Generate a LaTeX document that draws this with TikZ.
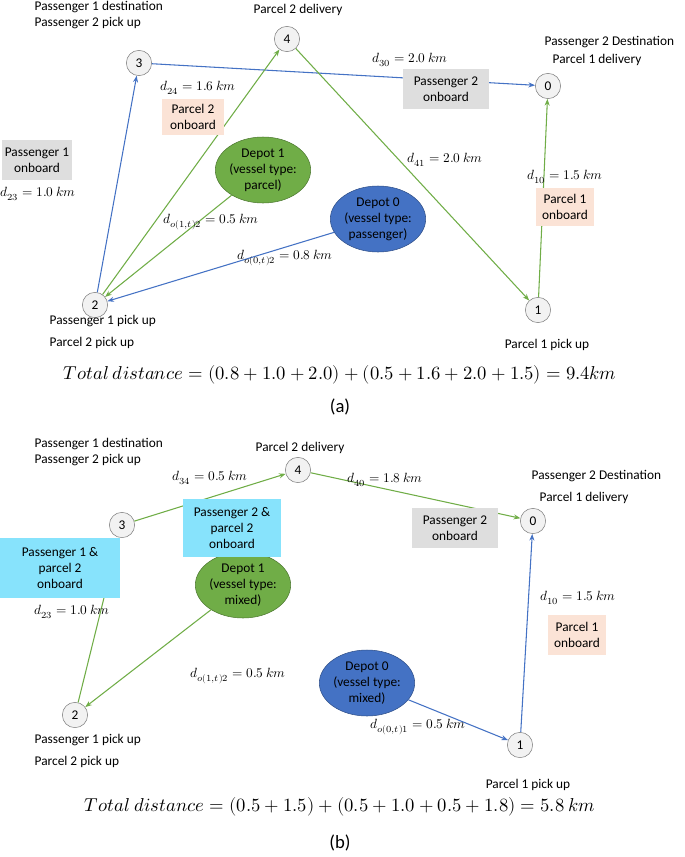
\documentclass[tikz,border=0pt]{standalone}
\usepackage{fontspec}
\setmainfont{Carlito}
\usepackage{unicode-math}
\setmathfont{Latin Modern Math}
\usetikzlibrary{arrows.meta,shapes.geometric}
\definecolor{gr}{HTML}{70AD47}
\definecolor{bl}{HTML}{4472C4}
\definecolor{gy}{HTML}{DEDEDE}
\definecolor{pk}{HTML}{FBE3D6}
\definecolor{cy}{HTML}{87E3FC}
\begin{document}
\begin{tikzpicture}[x=0.75pt,y=-0.75pt,font=\fontsize{10}{12}\selectfont,
 v/.style={circle,draw=gray,fill=black!5,minimum size=19pt,inner sep=0pt},
 dep/.style={ellipse,draw=#1!70!black,fill=#1,inner sep=0pt,align=center},
 box/.style={fill=#1,align=center,inner sep=2pt},
 lab/.style={align=left,anchor=west},
 ga/.style={draw=gr,thick,-{Stealth[length=5pt]}},
 ba/.style={draw=bl,thick,-{Stealth[length=5pt]}}]
\useasboundingbox (0,0) rectangle (685,857);
% (a)
\node[v] (a3) at (139,63) {3};
\node[v] (a4) at (287,39) {4};
\node[v] (a0) at (548,86) {0};
\node[v] (a2) at (95,305) {2};
\node[v] (a1) at (538,310) {1};
\node[dep=gr,minimum width=71pt,minimum height=49.5pt] (ad1) at (263,170) {Depot 1\\(vessel type:\\parcel)};
\node[dep=bl,minimum width=71pt,minimum height=49.5pt] (ad0) at (378,219) {Depot 0\\(vessel type:\\passenger)};
\draw[ba] (a3) -- (a0);
\draw[ba] (a2) -- (a3);
\draw[ba] (ad0) -- (a2);
\draw[ga] (ad1) -- (a2);
\draw[ga] (a2) -- (a4);
\draw[ga] (a4) -- (a1);
\draw[ga] (a1) -- (a0);
\node[lab] (t1) at (30,15) {Passenger 1 destination\\Passenger 2 pick up};
\node (t2) at (298,10) {Parcel 2 delivery};
\node[lab] (t3) at (540,51) {Passenger 2 Destination\\[2pt]\hspace*{6pt}Parcel 1 delivery};
\node (t4) at (410,60) {$d_{30}=2.0\ km$};
\node[box=gy,minimum width=64pt,minimum height=30pt] (b1) at (446,89) {Passenger 2\\onboard};
\node (t5) at (198,88) {$d_{24}=1.6\ km$};
\node[box=pk,minimum width=47pt,minimum height=27pt] (b2) at (193,117) {Parcel 2\\onboard};
\node[box=gy,minimum width=47pt,minimum height=30pt] (b3) at (37,160) {Passenger 1\\onboard};
\node (t6) at (38,194) {$d_{23}=1.0\ km$};
\node (t7) at (211,222) {$d_{o(1,t)2}=0.5\ km$};
\node (t8) at (285,258) {$d_{o(0,t)2}=0.8\ km$};
\node (t9) at (445,160) {$d_{41}=2.0\ km$};
\node (t10) at (565,177) {$d_{10}=1.5\ km$};
\node[box=pk,minimum width=43pt,minimum height=28pt] (b4) at (565,207) {Parcel 1\\onboard};
\node[lab,align=left] (t11) at (45,332) {Passenger 1 pick up\\[4pt]Parcel 2 pick up};
\node (t12) at (547,345) {Parcel 1 pick up};
\node[font=\fontsize{14}{16}\selectfont] (t13) at (340,375) {$Total\ distance=(0.8+1.0+2.0)+(0.5+1.6+2.0+1.5)=9.4km$};
\node[font=\fontsize{14}{16}\selectfont\rmfamily] (t14) at (340,407) {(a)};
% (b)
\node[v] (b3n) at (122,525) {3};
\node[v] (b4n) at (298,470) {4};
\node[v] (b0n) at (533,521) {0};
\node[v] (b2n) at (75,715) {2};
\node[v] (b1n) at (520,745) {1};
\node[dep=gr,minimum width=60pt,minimum height=49.5pt] (bd1) at (243,585) {Depot 1\\(vessel type:\\mixed)};
\node[dep=bl,minimum width=68pt,minimum height=49.5pt] (bd0) at (367,683) {Depot 0\\(vessel type:\\mixed)};
\draw[ga] (b3n) -- (b4n);
\draw[ga] (b4n) -- (b0n);
\draw[ga] (b2n) -- (b3n);
\draw[ga] (bd1) -- (b2n);
\draw[ba] (bd0) -- (b1n);
\draw[ba] (b1n) -- (b0n);
\node[lab] (s1) at (30,452) {Passenger 1 destination\\Passenger 2 pick up};
\node (s2) at (300,448) {Parcel 2 delivery};
\node[lab] (s3) at (527,487) {Passenger 2 Destination\\[4pt]\hspace*{6pt}Parcel 1 delivery};
\node (s4) at (210,478) {$d_{34}=0.5\ km$};
\node (s5) at (385,480) {$d_{40}=1.8\ km$};
\node[box=cy,minimum width=74pt,minimum height=43pt] (c1) at (232,528) {Passenger 2 \&\\parcel 2\\onboard};
\node[box=gy,minimum width=64pt,minimum height=30pt] (c2) at (455,528) {Passenger 2\\onboard};
\node[box=cy,minimum width=90pt,minimum height=45pt] (c3) at (60,568) {Passenger 1 \&\\parcel 2\\onboard};
\node (s6) at (72,612) {$d_{23}=1.0\ km$};
\node (s7) at (238,676) {$d_{o(1,t)2}=0.5\ km$};
\node (s8) at (418,727) {$d_{o(0,t)1}=0.5\ km$};
\node (s9) at (578,598) {$d_{10}=1.5\ km$};
\node[box=pk,minimum width=43pt,minimum height=30pt] (c4) at (577,635) {Parcel 1\\onboard};
\node[lab] (s10) at (30,751) {Passenger 1 pick up\\[4pt]Parcel 2 pick up};
\node (s11) at (528,785) {Parcel 1 pick up};
\node[font=\fontsize{14}{16}\selectfont] (s12) at (340,807) {$Total\ distance=(0.5+1.5)+(0.5+1.0+0.5+1.8)=5.8\ km$};
\node[font=\fontsize{14}{16}\selectfont\rmfamily] (s13) at (340,843) {(b)};
\end{tikzpicture}
\end{document}
